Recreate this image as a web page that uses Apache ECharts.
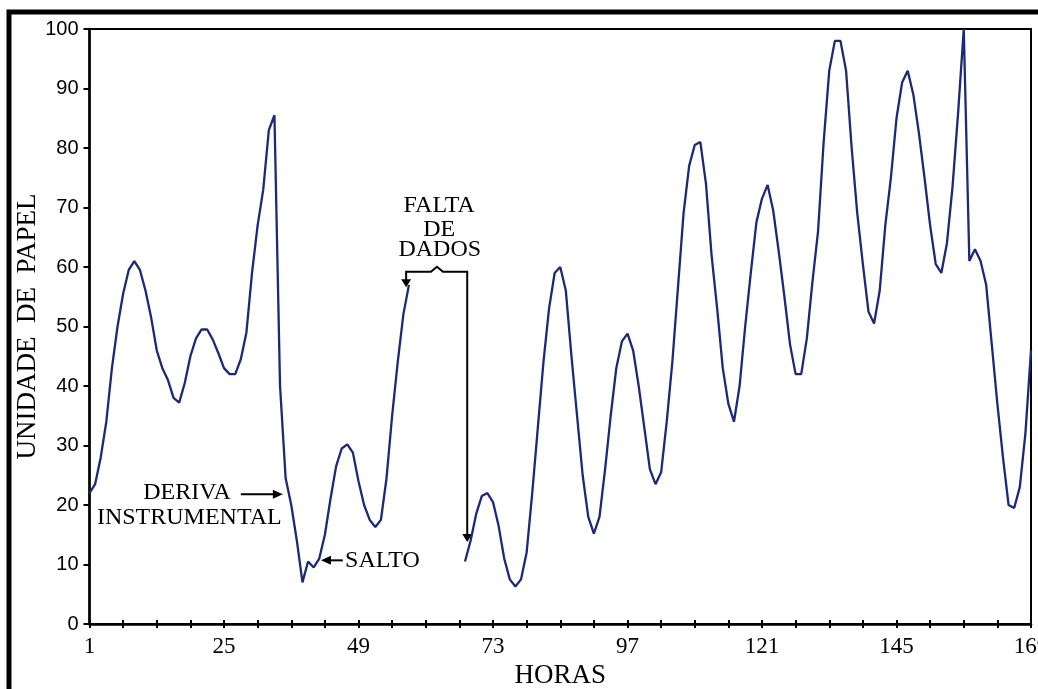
<!DOCTYPE html>
<html>
<head>
<meta charset="utf-8">
<script src="https://cdn.jsdelivr.net/npm/echarts@6/dist/echarts.min.js"></script>
<style>
html,body{margin:0;padding:0;background:#fff;}
#chart{width:1038px;height:689px;}
</style>
</head>
<body>
<div id="chart"></div>
<script>
// ---- data ----
const hourFirst = 1;
const hourLast = 169;
const yTicks = [0, 100, 10]; // min, max, step
const values = [
  22, 23.5, 28, 34, 43, 50, 55.5, 59.5, 61, 59.5,
  56, 51.5, 46, 43, 41, 38, 37.2, 40.5, 45, 48,
  49.5, 49.5, 47.8, 45.5, 43, 42, 42, 44.5, 49, 59,
  67, 73, 83, 85.5, 40, 24.5, 20, 14, 7, 10.5,
  9.5, 11, 15, 21, 26.5, 29.5, 30.2, 28.8, 24, 20,
  17.5, 16.3, 17.5, 24.5, 35, 44, 52, 57,
  null, null, null, null, null, null, null, null, null,
  10.5, 14, 18.5, 21.5, 22, 20.5, 16.5, 11, 7.5, 6.3,
  7.5, 12, 22, 33, 44, 53, 59, 60, 56, 45,
  35, 25, 18, 15.2, 18, 26, 35, 43, 47.5, 48.8,
  46, 40, 33, 26, 23.5, 25.5, 34, 44, 56.5, 69,
  77, 80.5, 81, 74, 62, 53, 43, 37, 34, 40,
  50, 59, 67.5, 71.5, 73.8, 69.5, 62.5, 55, 47, 42,
  42, 48, 57.5, 66, 81, 93, 98, 98, 93, 80,
  69, 60.5, 52.5, 50.5, 56, 67, 75, 85, 91, 93,
  89, 82.5, 75, 67, 60.5, 59, 64, 73.5, 86, 100,
  61, 63, 61, 57, 47, 37, 28, 20, 19.5, 23,
  32, 46
];
const hours = [];
for (let h = hourFirst; h <= hourLast; h++) hours.push(String(h));

// annotation anchors in data space: [hour, value]
const derivaText = [['DERIVA', 18.4, 22.1], ['INSTRUMENTAL', 18.8, 17.8]];
const derivaArrow = [[28.0, 21.8], [35.5, 21.8]];
const saltoArrow = [[46.2, 10.7], [42.3, 10.7]];
const saltoText = ['SALTO', 46.6, 10.7];
const faltaText = [['FALTA', 63.4, 70.3], ['DE', 63.4, 66.3], ['DADOS', 63.5, 62.9]];
const bracket = { left: 57.5, right: 68.4, mid: 63.0, top: 59.2, leftTip: 56.6, rightTip: 13.8 };

const SERIF = "'Liberation Serif','Times New Roman',serif";
const SANS = "'Liberation Sans',Arial,sans-serif";
const BLACK = '#000';

const chart = echarts.init(document.getElementById('chart'));
const option = {
  animation: false,
  backgroundColor: '#fff',
  grid: { left: 89.5, right: 7, top: 29, bottom: 65, show: true, borderColor: BLACK, borderWidth: 2,
          containLabel: false, outerBoundsMode: 'none' },
  xAxis: [{
    type: 'category', data: hours, boundaryGap: false, position: 'bottom',
    name: 'HORAS', nameLocation: 'middle', nameGap: 31,
    nameTextStyle: { fontFamily: SERIF, fontSize: 27, color: BLACK },
    axisLine: { lineStyle: { color: BLACK, width: 2.5 } },
    axisTick: { interval: 5, length: 4, lineStyle: { color: BLACK, width: 2 } },
    axisLabel: { interval: 23, margin: 11, fontFamily: SERIF, fontSize: 23, color: BLACK },
    splitLine: { show: false }
  }, {
    type: 'category', data: hours, boundaryGap: false, position: 'bottom',
    axisLine: { show: false },
    axisTick: { inside: true, interval: 5, length: 4, lineStyle: { color: BLACK, width: 2 } },
    axisLabel: { show: false },
    splitLine: { show: false }
  }],
  yAxis: {
    type: 'value', min: yTicks[0], max: yTicks[1], interval: yTicks[2],
    name: 'UNIDADE  DE  PAPEL', nameLocation: 'middle', nameGap: 48, nameRotate: 90,
    nameMoveOverlap: false,
    nameTextStyle: { fontFamily: SERIF, fontSize: 27, color: BLACK },
    axisLine: { show: true, lineStyle: { color: BLACK, width: 2.5 } },
    axisTick: { show: true, length: 6, lineStyle: { color: BLACK, width: 2 } },
    axisLabel: { margin: 11, fontFamily: SANS, fontSize: 20, color: BLACK },
    splitLine: { show: false }
  },
  series: [{
    type: 'line', data: values, xAxisIndex: 0, showSymbol: false, connectNulls: false,
    lineStyle: { color: '#1b2976', width: 2.3 }, itemStyle: { color: '#1b2976' }
  }]
};
chart.setOption(option);

// fractional hour -> pixel via interpolation between first and last categories
function P(h, v) {
  const a = chart.convertToPixel({ xAxisIndex: 0, yAxisIndex: 0 }, [0, v]);
  const b = chart.convertToPixel({ xAxisIndex: 0, yAxisIndex: 0 }, [hours.length - 1, v]);
  const t = (h - hourFirst) / (hourLast - hourFirst);
  return [a[0] + (b[0] - a[0]) * t, a[1]];
}
const textStyle = (t, x, y, align) => ({
  type: 'text', x: x, y: y,
  style: { text: t, fontFamily: SERIF, fontSize: 24, fill: BLACK, align: align || 'center', verticalAlign: 'middle' }
});
const line = (p1, p2) => ({ type: 'line', shape: { x1: p1[0], y1: p1[1], x2: p2[0], y2: p2[1] }, style: { stroke: BLACK, lineWidth: 2 } });
const tri = (pts) => ({ type: 'polygon', shape: { points: pts }, style: { fill: BLACK } });

const g = [];
// outer frame
g.push({ type: 'rect', shape: { x: 9, y: 12, width: 1200, height: 900 }, style: { fill: null, stroke: BLACK, lineWidth: 5 } });
// DERIVA INSTRUMENTAL
derivaText.forEach(d => { const p = P(d[1], d[2]); g.push(textStyle(d[0], p[0], p[1])); });
{
  const a = P(derivaArrow[0][0], derivaArrow[0][1]), b = P(derivaArrow[1][0], derivaArrow[1][1]);
  g.push(line(a, [b[0] - 8, b[1]]));
  g.push(tri([[b[0], b[1]], [b[0] - 10, b[1] - 4.5], [b[0] - 10, b[1] + 4.5]]));
}
// SALTO
{
  const a = P(saltoArrow[0][0], saltoArrow[0][1]), b = P(saltoArrow[1][0], saltoArrow[1][1]);
  g.push(line(a, [b[0] + 8, b[1]]));
  g.push(tri([[b[0], b[1]], [b[0] + 10, b[1] - 4.5], [b[0] + 10, b[1] + 4.5]]));
  const p = P(saltoText[1], saltoText[2]);
  g.push(textStyle(saltoText[0], p[0], p[1], 'left'));
}
// FALTA DE DADOS
faltaText.forEach(d => { const p = P(d[1], d[2]); g.push(textStyle(d[0], p[0], p[1])); });
{
  const L = P(bracket.left, bracket.top), R = P(bracket.right, bracket.top), M = P(bracket.mid, bracket.top);
  const lt = P(bracket.left, bracket.leftTip), rt = P(bracket.right, bracket.rightTip);
  g.push({ type: 'polyline', shape: { points: [[lt[0], lt[1] - 7], [L[0], L[1]], [M[0] - 6, M[1]], [M[0], M[1] - 5], [M[0] + 6, M[1]], [R[0], R[1]], [rt[0], rt[1] - 7]] }, style: { stroke: BLACK, lineWidth: 2, fill: null } });
  g.push(tri([[lt[0], lt[1]], [lt[0] - 5, lt[1] - 8], [lt[0] + 5, lt[1] - 8]]));
  g.push(tri([[rt[0], rt[1]], [rt[0] - 5, rt[1] - 8], [rt[0] + 5, rt[1] - 8]]));
}
chart.setOption({ graphic: g });
</script>
</body>
</html>
